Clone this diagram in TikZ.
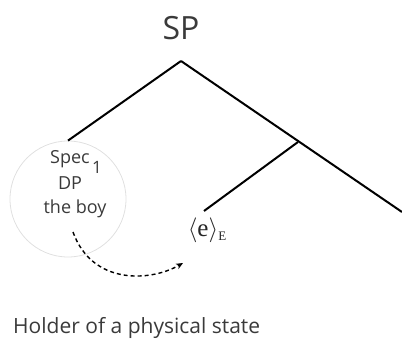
\documentclass[tikz,border=0pt]{standalone}
\usepackage{fontspec}
\setmainfont{Open Sans}
\newfontfamily\serifx{Liberation Serif}
\usetikzlibrary{arrows.meta}
\definecolor{txt}{HTML}{3A3A3A}
\begin{document}
\begin{tikzpicture}[x=1pt,y=-1pt,
  branch/.style={line width=2pt,black},
  lbl/.style={inner sep=0pt,text=txt},
]
\useasboundingbox (0,0) rectangle (402,340);
\node[lbl,font=\fontsize{32}{34}\selectfont] (sp) at (181,28) {SP};
\coordinate (top) at (181,61);
\node[circle,draw=black!12,line width=0.8pt,minimum size=116pt,inner sep=0pt] (spec) at (68,199) {};
\node[lbl,font=\fontsize{18}{20}\selectfont] (spectxt) at (70,159) {Spec};
\node[lbl,font=\fontsize{17}{19}\selectfont] (one) at (97,167) {1};
\node[lbl,font=\fontsize{18}{20}\selectfont] (dp) at (70,183) {DP};
\node[lbl,font=\fontsize{18}{20}\selectfont] (boy) at (75,209) {the boy};
\coordinate (mid) at (298,142);
\coordinate (rend) at (402,212);
\node[lbl,text=black!85,font=\serifx\fontsize{25}{27}\selectfont] (e) at (207,230) {$\langle$e$\rangle$\raisebox{-0.4ex}{\fontsize{13}{14}\selectfont E}};
\coordinate (eTop) at (204,211);
\draw[branch] (top) -- (spec.north);
\draw[branch] (top) -- (rend);
\draw[branch] (mid) -- (eTop);
\coordinate (arrStart) at (73,232);
\coordinate (arrEnd) at (183,263);
\draw[line width=1.4pt,dashed,dash pattern=on 4pt off 3pt,-{Stealth[length=7pt,width=6pt]}] (arrStart) .. controls (92,285) and (150,282) .. (arrEnd);
\node[lbl,anchor=west,font=\fontsize{21}{23}\selectfont] (holder) at (13,328) {Holder of a physical state};
\end{tikzpicture}
\end{document}
